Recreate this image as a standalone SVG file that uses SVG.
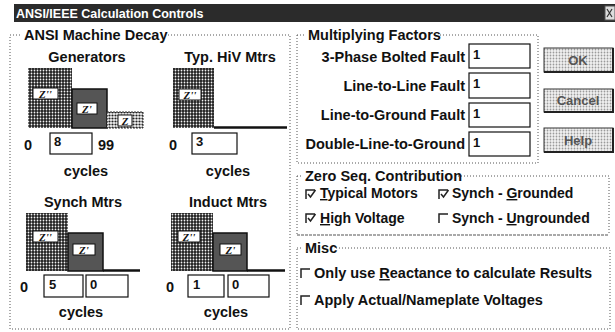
<svg xmlns="http://www.w3.org/2000/svg" width="615" height="332" viewBox="0 0 615 332">
<defs>
<pattern id="dark" width="3" height="3" patternUnits="userSpaceOnUse"><rect width="3" height="3" fill="#1e1e1e"/><circle cx="1.5" cy="1.5" r="0.9" fill="#f4f4f4"/></pattern>
<pattern id="light" width="3" height="3" patternUnits="userSpaceOnUse"><rect width="3" height="3" fill="#f4f4f4"/><circle cx="1.5" cy="1.5" r="1.1" fill="#222"/></pattern>
<pattern id="btn" width="3" height="3" patternUnits="userSpaceOnUse"><rect width="3" height="3" fill="#f2f2f2"/><circle cx="1.5" cy="1.5" r="0.9" fill="#9a9a9a"/></pattern>
<style>
text{font-family:"Liberation Sans",Arial,sans-serif;font-weight:bold;font-size:14.5px;fill:#111}
.t{font-size:12.5px;fill:#fff}
.c{text-anchor:middle}
.r{text-anchor:end}
.z{font-family:"Liberation Serif","Times New Roman",serif;font-style:italic;font-size:11px;text-anchor:middle}
.v{font-size:13px}
.s{font-size:14px}
.dot{fill:none;stroke:#555;stroke-width:1;stroke-dasharray:1 2}
.box{fill:#fff;stroke:#111;stroke-width:1.2}
.lbl{fill:#fff;stroke:#111;stroke-width:1}
.bt{fill:url(#btn);stroke:#333;stroke-width:1}
.btt{fill:#555;font-size:13px}
.cb{fill:none;stroke:#222;stroke-width:1.5}
.u{text-decoration:underline}
</style>
</defs>

<g id="titlebar">
<rect x="14" y="4" width="601" height="18" fill="#2b2b2b"/>
<text class="t" x="16" y="17.5">ANSI/IEEE Calculation Controls</text>
<rect x="605" y="6" width="10" height="14" fill="#ddd" stroke="#555"/>
<path d="M607,9 l5,8 M612,9 l-5,8" stroke="#333" stroke-width="1.2"/>
</g>

<g id="ansi-machine-decay">
<path class="dot" d="M10,35 H22 M168,35 H290 V329 H10 V35"/>
<text x="24" y="40">ANSI Machine Decay</text>

<g id="generators">
<text class="c" x="87" y="62">Generators</text>
<rect x="28" y="68" width="44" height="60" fill="url(#dark)"/>
<rect x="72" y="89" width="35" height="39" fill="#555" stroke="#111" stroke-width="1.5"/>
<rect x="107" y="112" width="36" height="16" fill="url(#light)" stroke="#333" stroke-dasharray="2 1"/>
<rect class="lbl" x="33" y="88" width="25" height="11"/><text class="z" x="45.5" y="97.5">Z''</text>
<rect class="lbl" x="77" y="103" width="20" height="11"/><text class="z" x="87" y="112.5">Z'</text>
<rect class="lbl" x="118" y="115" width="14" height="11"/><text class="z" x="125" y="124.5">Z</text>
<text x="24" y="150">0</text>
<rect class="box" x="50" y="133" width="42" height="21"/>
<text class="v" x="54" y="146">8</text>
<text x="98" y="150">99</text>
<text class="c" x="86" y="176">cycles</text>
</g>

<g id="typ-hiv-mtrs">
<text class="c" x="230" y="62">Typ. HiV Mtrs</text>
<rect x="173" y="68" width="41" height="60" fill="url(#dark)"/>
<line x1="214" y1="127.5" x2="287" y2="127.5" stroke="#111" stroke-width="2.5"/>
<rect class="lbl" x="179" y="89" width="22" height="11"/><text class="z" x="190" y="98.5">Z''</text>
<text x="169" y="150">0</text>
<rect class="box" x="192" y="133" width="45" height="21"/>
<text class="v" x="196" y="146">3</text>
<text class="c" x="228" y="176">cycles</text>
</g>

<g id="synch-mtrs">
<text class="c" x="83" y="207">Synch Mtrs</text>
<rect x="26" y="213" width="42" height="58" fill="url(#dark)"/>
<rect x="68" y="233" width="35" height="38" fill="#555" stroke="#111" stroke-width="1.5"/>
<line x1="103" y1="270.5" x2="140" y2="270.5" stroke="#111" stroke-width="2.5"/>
<rect class="lbl" x="33" y="231" width="25" height="11"/><text class="z" x="45.5" y="240.5">Z''</text>
<rect class="lbl" x="73" y="244" width="22" height="11"/><text class="z" x="84" y="253.5">Z'</text>
<text x="20" y="292">0</text>
<rect class="box" x="44" y="275" width="39" height="22"/>
<text class="v" x="49" y="289">5</text>
<rect class="box" x="86" y="275" width="42" height="22"/>
<text class="v" x="90" y="289">0</text>
<text class="c" x="81" y="317">cycles</text>
</g>

<g id="induct-mtrs">
<text class="c" x="228" y="207">Induct Mtrs</text>
<rect x="171" y="213" width="42" height="58" fill="url(#dark)"/>
<rect x="213" y="233" width="34" height="38" fill="#555" stroke="#111" stroke-width="1.5"/>
<line x1="247" y1="270.5" x2="285" y2="270.5" stroke="#111" stroke-width="2.5"/>
<rect class="lbl" x="178" y="231" width="22" height="11"/><text class="z" x="189" y="240.5">Z''</text>
<rect class="lbl" x="220" y="244" width="21" height="11"/><text class="z" x="230.5" y="253.5">Z'</text>
<text x="166" y="292">0</text>
<rect class="box" x="188" y="275" width="36" height="22"/>
<text class="v" x="193" y="289">1</text>
<rect class="box" x="228" y="275" width="41" height="22"/>
<text class="v" x="232" y="289">0</text>
<text class="c" x="226" y="317">cycles</text>
</g>
</g>

<g id="multiplying-factors">
<path class="dot" d="M297,35 H305 M440,35 H538 V163 H297 V35"/>
<text x="308" y="40">Multiplying Factors</text>
<text class="r" x="465" y="62">3-Phase Bolted Fault</text>
<text class="r" x="465" y="91">Line-to-Line Fault</text>
<text class="r" x="465" y="120">Line-to-Ground Fault</text>
<text class="r" x="465" y="149">Double-Line-to-Ground</text>
<rect class="box" x="469" y="44" width="61" height="24"/><text class="v" x="473" y="59">1</text>
<rect class="box" x="469" y="73" width="61" height="25"/><text class="v" x="473" y="88">1</text>
<rect class="box" x="469" y="103" width="61" height="24"/><text class="v" x="473" y="118">1</text>
<rect class="box" x="469" y="132" width="61" height="24"/><text class="v" x="473" y="147">1</text>
</g>

<g id="buttons">
<g id="btn-ok"><rect class="bt" x="544" y="48" width="69" height="24"/><path d="M544,72 H613 V48" fill="none" stroke="#222" stroke-width="2"/><text class="c btt" x="578" y="65">OK</text></g>
<g id="btn-cancel"><rect class="bt" x="544" y="89" width="69" height="23"/><path d="M544,112 H613 V89" fill="none" stroke="#222" stroke-width="2"/><text class="c btt" x="578" y="105">Cancel</text></g>
<g id="btn-help"><rect class="bt" x="544" y="128" width="69" height="24"/><path d="M544,152 H613 V128" fill="none" stroke="#222" stroke-width="2"/><text class="c btt" x="578" y="145">Help</text></g>
</g>

<g id="zero-seq">
<path class="dot" d="M297,176 H303 M458,176 H609 V235 M297,176 V235"/>
<line x1="297" y1="235" x2="609" y2="235" stroke="#555" stroke-width="1.2" stroke-dasharray="3 1"/>
<text x="305" y="181">Zero Seq. Contribution</text>
<path class="cb" d="M306,199 V190 H315 M308,194 l2.5,3 l5,-7"/>
<text class="s" x="320" y="198"><tspan class="u">T</tspan>ypical Motors</text>
<path class="cb" d="M306,223 V214 H315 M308,218 l2.5,3 l5,-7"/>
<text class="s" x="320" y="223"><tspan class="u">H</tspan>igh Voltage</text>
<path class="cb" d="M439,199 V190 H448 M441,194 l2.5,3 l5,-7"/>
<text class="s" x="452" y="198">Synch - <tspan class="u">G</tspan>rounded</text>
<path class="cb" d="M439,223 V214 H448"/>
<text class="s" x="452" y="223">Synch - <tspan class="u">U</tspan>ngrounded</text>
</g>

<g id="misc">
<path class="dot" d="M297,248 H303 M336,248 H610 V329 H297 V248"/>
<text x="305" y="253">Misc</text>
<path class="cb" d="M301,278 V269 H310"/>
<text x="314" y="278">Only use <tspan class="u">R</tspan>eactance to calculate Results</text>
<path class="cb" d="M301,305 V296 H310"/>
<text x="314" y="305">Apply Actual/Nameplate Voltages</text>
</g>
</svg>
